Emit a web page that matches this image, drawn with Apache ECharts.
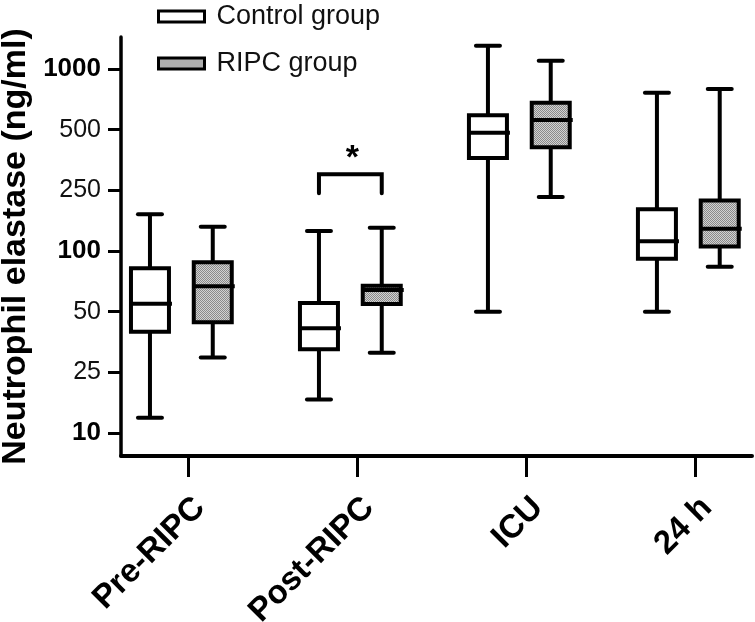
<!DOCTYPE html>
<html>
<head>
<meta charset="utf-8">
<script src="https://cdn.jsdelivr.net/npm/echarts@6/dist/echarts.min.js"></script>
<style>
  html, body { margin: 0; padding: 0; background: #fff; }
  #chart { width: 755px; height: 622px; }
</style>
</head>
<body>
<div id="chart"></div>
<script>
// time points and the box statistics [min, q1, median, q3, max] (ng/ml)
const categories = ['Pre-RIPC', 'Post-RIPC', 'ICU', '24 h']
const controlBoxes = [
  [12.6, 39.8, 54.7, 82, 174],
  [16.6, 32.5, 41.4, 55.2, 135],
  [50, 362, 483, 589, 1305],
  [50, 91.6, 116, 188, 763],
]
const ripcBoxes = [
  [29.6, 44.3, 66.8, 88, 144],
  [31.3, 54.6, 64, 67.3, 142],
  [226, 409, 558, 680, 1100],
  [83.6, 107, 140, 214, 796],
]
const yTickValues = [10, 25, 50, 100, 250, 500, 1000]
const boldTicks = [10, 100, 1000]
// significance bracket: category index, [low, high] end values
const sigCategory = [1]
const sigBracket = [239, 300]

// the y axis puts the tick labels at equal steps, log-interpolated in between
function toAxis(v) {
  const t = yTickValues
  let k = 0
  while (k < t.length - 2 && v >= t[k + 1]) k++
  return k + (Math.log(v) - Math.log(t[k])) / (Math.log(t[k + 1]) - Math.log(t[k]))
}

const CTRL_OFF = -0.2266, RIPC_OFF = 0.145

const pc = document.createElement('canvas')
pc.width = pc.height = 2
const g = pc.getContext('2d')
g.fillStyle = '#d2d2d2'; g.fillRect(0, 0, 2, 2)
g.fillStyle = '#8a8a8a'; g.fillRect(0, 0, 1, 1); g.fillRect(1, 1, 1, 1)
const dotted = { image: pc, repeat: 'repeat' }

function boxRenderer(offset, fill) {
  return function (params, api) {
    const x = api.value(0) + offset
    const p = k => api.coord([x, toAxis(api.value(k))])
    const lo = p(1), q1 = p(2), md = p(3), q3 = p(4), hi = p(5)
    const cx = lo[0], hw = 19, cw = 12
    const ln = { stroke: '#000', lineWidth: 4 }
    return {
      type: 'group',
      children: [
        { type: 'line', shape: { x1: cx, y1: hi[1], x2: cx, y2: lo[1] }, style: ln },
        { type: 'line', shape: { x1: cx - cw, y1: hi[1], x2: cx + cw, y2: hi[1] }, style: { ...ln, lineCap: 'round' } },
        { type: 'line', shape: { x1: cx - cw, y1: lo[1], x2: cx + cw, y2: lo[1] }, style: { ...ln, lineCap: 'round' } },
        { type: 'rect', shape: { x: cx - hw, y: q3[1], width: hw * 2, height: q1[1] - q3[1] }, style: { fill, stroke: '#000', lineWidth: 4 } },
        { type: 'line', shape: { x1: cx - hw, y1: md[1], x2: cx + hw + 3, y2: md[1] }, style: ln },
      ],
    }
  }
}

const chart = echarts.init(document.getElementById('chart'))
chart.setOption({
  animation: false,
  grid: { left: 121, right: 3, top: 37, bottom: 166, outerBoundsMode: 'none', containLabel: false },
  legend: {
    orient: 'vertical', left: 152, top: -2, itemWidth: 46, itemHeight: 11, itemGap: 20,
    icon: 'rect',
    textStyle: { fontSize: 27, color: '#111', fontFamily: 'Liberation Sans', padding: [0, 0, 0, 7] },
    data: [
      { name: 'Control group', itemStyle: { color: '#fff', borderColor: '#000', borderWidth: 3 } },
      { name: 'RIPC group', itemStyle: { color: dotted, borderColor: '#000', borderWidth: 3 } },
    ],
  },
  xAxis: {
    type: 'value', min: -0.398, max: 3.336,
    splitLine: { show: false },
    axisLine: { onZero: false, lineStyle: { color: '#000', width: 4 } },
    axisTick: { customValues: [0, 1, 2, 3], length: 21, lineStyle: { color: '#000', width: 3 } },
    axisLabel: {
      customValues: [0, 1, 2, 3], rotate: 45, margin: 35, align: 'right', verticalAlign: 'top',
      formatter: v => categories[Math.round(v)],
      fontSize: 33, fontWeight: 'bold', color: '#000', fontFamily: 'Liberation Sans',
    },
  },
  yAxis: {
    type: 'value', min: -0.379, max: 6.527,
    name: 'Neutrophil elastase (ng/ml)', nameLocation: 'middle', nameGap: 87,
    nameTextStyle: { fontSize: 34, fontWeight: 'bold', color: '#000', fontFamily: 'Liberation Sans' },
    splitLine: { show: false },
    axisLine: { show: true, onZero: false, lineStyle: { color: '#000', width: 3.5 } },
    axisTick: { show: true, customValues: [0, 1, 2, 3, 4, 5, 6], length: 13, lineStyle: { color: '#000', width: 3 } },
    axisLabel: {
      customValues: [0, 1, 2, 3, 4, 5, 6], margin: 20, fontSize: 25,
      formatter: v => {
        const t = yTickValues[Math.round(v)]
        return boldTicks.includes(t) ? '{b|' + t + '}' : '{n|' + t + '}'
      },
      rich: {
        b: { fontSize: 26, fontWeight: 'bold', color: '#000', fontFamily: 'Liberation Sans' },
        n: { fontSize: 25, color: '#111', fontFamily: 'Liberation Sans' },
      },
    },
  },
  series: [
    {
      name: 'Control group', type: 'custom',
      renderItem: boxRenderer(CTRL_OFF, '#fff'),
      data: controlBoxes.map((b, i) => [i, ...b]),
    },
    {
      name: 'RIPC group', type: 'custom',
      renderItem: boxRenderer(RIPC_OFF, dotted),
      data: ripcBoxes.map((b, i) => [i, ...b]),
    },
    {
      type: 'custom',
      renderItem: (params, api) => {
        const c = api.value(0)
        const a = api.coord([c + CTRL_OFF, toAxis(api.value(1))])
        const b = api.coord([c + RIPC_OFF, toAxis(api.value(2))])
        const lowY = a[1], highY = b[1]
        return {
          type: 'group',
          children: [
            { type: 'polyline', shape: { points: [[a[0], lowY], [a[0], highY], [b[0], highY], [b[0], lowY]] },
              style: { fill: null, stroke: '#000', lineWidth: 4, lineCap: 'round' } },
            { type: 'text', x: (a[0] + b[0]) / 2 + 2, y: highY + 1,
              style: { text: '*', fontSize: 34, fontWeight: 'bold', fill: '#000', align: 'center', verticalAlign: 'bottom', fontFamily: 'Liberation Sans' } },
          ],
        }
      },
      data: sigCategory.map(c => [c, sigBracket[0], sigBracket[1]]),
    },
  ],
})
</script>
</body>
</html>
